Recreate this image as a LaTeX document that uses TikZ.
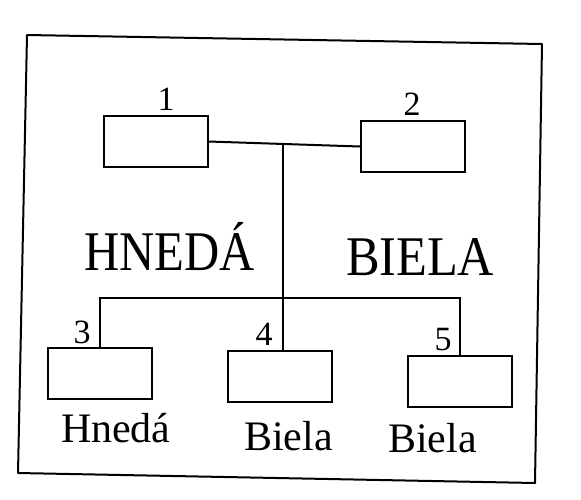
\documentclass[tikz,border=0pt]{standalone}
\usepackage{fontspec}
\setmainfont{Liberation Serif}
\begin{document}
\begin{tikzpicture}[x=1pt,y=-1pt,line width=2pt,
  box/.style={draw,rectangle,inner sep=0pt,minimum width=104pt,minimum height=51pt},
  num/.style={inner sep=0pt,anchor=base,font=\fontsize{34}{34}\selectfont},
  big/.style={inner sep=0pt,anchor=base west,font=\fontsize{56}{56}\selectfont},
  small/.style={inner sep=0pt,anchor=base west,font=\fontsize{42}{42}\selectfont}]
\useasboundingbox (0,0) rectangle (581,499);
\fill[white] (0,0) rectangle (581,499);
% outer frame
\draw[line join=round] (27,35) -- (542,44) -- (535,483) -- (18,473) -- cycle;
% boxes
\node[box] (b1) at (155.5,141.5) {};
\node[box] (b2) at (413,146.5) {};
\node[box] (b3) at (99.5,373.5) {};
\node[box] (b4) at (280,376.5) {};
\node[box] (b5) at (459.5,381.5) {};
% number labels
\node[num] (n1) at (166,110) {1};
\node[num] (n2) at (412,115) {2};
\node[num] (n3) at (82,343) {3};
\node[num] (n4) at (264,345) {4};
\node[num] (n5) at (443,350) {5};
% connectors
\coordinate (j1) at (283,144);
\coordinate (bus) at (283,298);
\draw (b1.east) -- (b2.west);
\draw (j1) -- (j1 |- b4.north);
\draw (b3.north) |- (bus) -| (b5.north);
% texts
\node[big] (t1) at (83,270) {\scalebox{0.87}[1]{HNEDÁ}};
\node[big] (t2) at (345,275) {\scalebox{0.9}[1]{BIELA}};
\node[small] (t3) at (60,442) {Hnedá};
\node[small] (t4) at (243,450) {Biela};
\node[small] (t5) at (387,452) {Biela};
\end{tikzpicture}
\end{document}
